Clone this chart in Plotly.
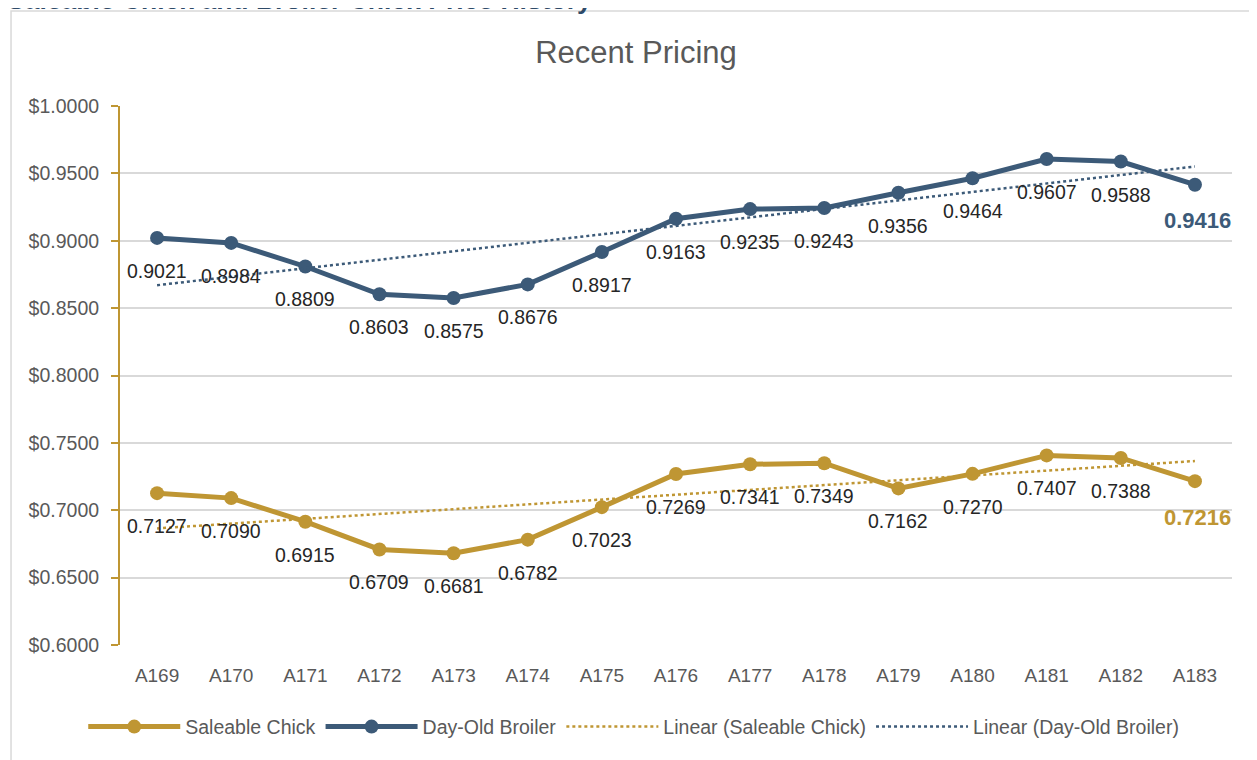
import numpy as np
import plotly.graph_objects as go

categories = ["A169", "A170", "A171", "A172", "A173", "A174", "A175", "A176",
              "A177", "A178", "A179", "A180", "A181", "A182", "A183"]
saleable = [0.7127, 0.7090, 0.6915, 0.6709, 0.6681, 0.6782, 0.7023, 0.7269,
            0.7341, 0.7349, 0.7162, 0.7270, 0.7407, 0.7388, 0.7216]
broiler = [0.9021, 0.8984, 0.8809, 0.8603, 0.8575, 0.8676, 0.8917, 0.9163,
           0.9235, 0.9243, 0.9356, 0.9464, 0.9607, 0.9588, 0.9416]
y_ticks = [0.60, 0.65, 0.70, 0.75, 0.80, 0.85, 0.90, 0.95, 1.00]

GOLD = "#BF9633"
BLUE = "#3C5A78"
GRAY = "#595959"
FONT = "Liberation Sans Narrow, Arial Narrow, Liberation Sans, Arial, sans-serif"

idx = np.arange(len(categories))
s_fit = np.polyval(np.polyfit(idx, saleable, 1), idx)
b_fit = np.polyval(np.polyfit(idx, broiler, 1), idx)

fig = go.Figure()
fig.add_trace(go.Scatter(x=categories, y=saleable, name="Saleable Chick", mode="lines+markers",
                         line=dict(color=GOLD, width=5), marker=dict(color=GOLD, size=14)))
fig.add_trace(go.Scatter(x=categories, y=broiler, name="Day-Old Broiler", mode="lines+markers",
                         line=dict(color=BLUE, width=5), marker=dict(color=BLUE, size=14)))
fig.add_trace(go.Scatter(x=categories, y=s_fit, name="Linear (Saleable Chick)", mode="lines",
                         line=dict(color=GOLD, width=2.5, dash="dot")))
fig.add_trace(go.Scatter(x=categories, y=b_fit, name="Linear (Day-Old Broiler)", mode="lines",
                         line=dict(color=BLUE, width=2.5, dash="dot")))

annotations = []
n = len(categories)
for series, col in ((saleable, GOLD), (broiler, BLUE)):
    for i, (c, v) in enumerate(zip(categories, series)):
        if i == n - 1:
            annotations.append(dict(x=c, y=v, text=f"{v:.4f}", showarrow=False, xshift=3, yshift=-36,
                                    font=dict(family=FONT, size=22, color=col, weight="bold")))
        else:
            annotations.append(dict(x=c, y=v, text=f"{v:.4f}", showarrow=False, yshift=-33,
                                    font=dict(family=FONT, size=19.5, color="#262626")))

annotations.append(dict(xref="paper", yref="paper", x=-0.1034, y=1.1966, xanchor="left", yanchor="middle",
                        text="Saleable Chick and Broiler Chick Price History", showarrow=False,
                        font=dict(family="Liberation Sans, Arial, sans-serif", size=26.5, color="#2E4A68",
                                  weight="bold")))

fig.update_layout(
    width=1249, height=752,
    margin=dict(l=112, r=25, t=98, b=115),
    paper_bgcolor="white", plot_bgcolor="white",
    title=dict(text="Recent Pricing", x=0.5028, xanchor="center",
               y=0.9415, yanchor="middle",
               font=dict(family=FONT, size=31, color=GRAY)),
    font=dict(family=FONT, color=GRAY, size=19),
    showlegend=True,
    legend=dict(orientation="h", x=0.462, xanchor="center", y=-0.152, yanchor="middle",
                font=dict(family=FONT, size=19.5, color=GRAY), itemwidth=92, traceorder="normal"),
    annotations=annotations,
    shapes=[dict(type="rect", xref="paper", yref="paper", x0=-0.098, x1=1.04, y0=-0.25, y1=1.1763,
                 line=dict(color="#D9D9D9", width=1.5), fillcolor="rgba(0,0,0,0)", layer="below")],
)
fig.update_xaxes(type="category", showgrid=False, showline=False, ticks="outside", ticklen=13,
                 tickcolor="rgba(0,0,0,0)",
                 tickfont=dict(family=FONT, size=19, color=GRAY), range=[-0.5, n - 0.5])
fig.update_yaxes(range=[0.6, 1.0], tickvals=y_ticks, tickformat="$.4f",
                 showgrid=True, gridcolor="#D9D9D9", gridwidth=1.5,
                 showline=True, linecolor=GOLD, linewidth=2, ticks="outside", tickcolor=GOLD,
                 ticklen=7, tickwidth=2, zeroline=False, ticklabelstandoff=8,
                 tickfont=dict(family=FONT, size=19.5, color=GRAY))

fig.write_html("out.html")
